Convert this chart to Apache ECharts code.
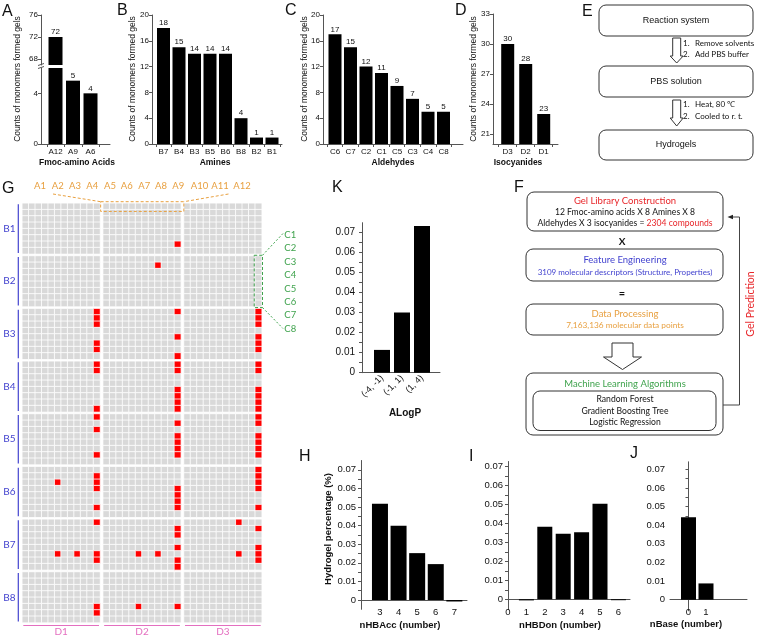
<!DOCTYPE html>
<html>
<head>
<meta charset="utf-8">
<script src="https://cdn.jsdelivr.net/npm/echarts@6/dist/echarts.min.js"></script>
</head>
<body style="margin: 0; background: #fff">
<div id="main" style="width: 757px; height: 637px"></div>
<script>
  // ---------- data ----------
  // A-D: counts of monomers that formed gels
  const aminoNames = ['A12', 'A9', 'A6'];
  const aminoCounts = [72, 5, 4];
  const amineNames = ['B7', 'B4', 'B3', 'B5', 'B6', 'B8', 'B2', 'B1'];
  const amineCounts = [18, 15, 14, 14, 14, 4, 1, 1];
  const aldehydeNames = ['C6', 'C7', 'C2', 'C1', 'C5', 'C3', 'C4', 'C8'];
  const aldehydeCounts = [17, 15, 12, 11, 9, 7, 5, 5];
  const isocyanideNames = ['D3', 'D2', 'D1'];
  const isocyanideCounts = [30, 28, 23];

  // K, H, I, J: hydrogel percentage by descriptor
  const alogpBins = ['(-4, -1)', '(-1, 1)', '(1, 4)'];
  const alogpPct = [0.0114, 0.0301, 0.0733];
  const hbaccNumbers = [3, 4, 5, 6, 7];
  const hbaccPct = [0.0518, 0.0399, 0.0252, 0.0193, -0.0008];
  const hbdonNumbers = [1, 2, 3, 4, 5, 6];
  const hbdonPct = [-0.0006, 0.0382, 0.0345, 0.0352, 0.0502, -0.0005];
  const nbaseNumbers = [0, 1];
  const nbasePct = [0.0442, 0.0087];
  const pctTicks = [0, 0.01, 0.02, 0.03, 0.04, 0.05, 0.06, 0.07];

  // G: library map, 12 A x 8 B x 8 C x 3 D
  const aLabels = ['A1', 'A2', 'A3', 'A4', 'A5', 'A6', 'A7', 'A8', 'A9', 'A10', 'A11', 'A12'];
  const bLabels = ['B1', 'B2', 'B3', 'B4', 'B5', 'B6', 'B7', 'B8'];
  const cLabels = ['C1', 'C2', 'C3', 'C4', 'C5', 'C6', 'C7', 'C8'];
  const dLabels = ['D1', 'D2', 'D3'];
  // gel-forming combinations: [amine, isocyanide, amino acid, aldehydes]
  const gelCells = [
    ['B1', 'D2', 'A12', ['C7']],
    ['B2', 'D2', 'A9', ['C2']],
    ['B3', 'D1', 'A12', ['C1', 'C2', 'C3', 'C6', 'C7']],
    ['B3', 'D2', 'A12', ['C1', 'C5', 'C8']],
    ['B3', 'D3', 'A12', ['C1', 'C2', 'C3', 'C5', 'C6', 'C7']],
    ['B4', 'D1', 'A12', ['C1', 'C2', 'C8']],
    ['B4', 'D2', 'A12', ['C1', 'C2', 'C5', 'C6', 'C7', 'C8']],
    ['B4', 'D3', 'A12', ['C1', 'C2', 'C5', 'C6', 'C7', 'C8']],
    ['B5', 'D1', 'A12', ['C1', 'C3', 'C7']],
    ['B5', 'D2', 'A12', ['C2', 'C4', 'C5', 'C6', 'C7']],
    ['B5', 'D3', 'A12', ['C1', 'C2', 'C4', 'C5', 'C6', 'C7']],
    ['B6', 'D1', 'A6', ['C3']],
    ['B6', 'D1', 'A12', ['C2', 'C3', 'C4', 'C7']],
    ['B6', 'D2', 'A12', ['C4', 'C5', 'C6', 'C7']],
    ['B6', 'D3', 'A12', ['C1', 'C2', 'C3', 'C4', 'C7']],
    ['B7', 'D1', 'A6', ['C6']],
    ['B7', 'D1', 'A9', ['C6']],
    ['B7', 'D1', 'A12', ['C1', 'C6', 'C7']],
    ['B7', 'D2', 'A6', ['C6']],
    ['B7', 'D2', 'A9', ['C6']],
    ['B7', 'D2', 'A12', ['C2', 'C3', 'C5', 'C7', 'C8']],
    ['B7', 'D3', 'A9', ['C1', 'C6']],
    ['B7', 'D3', 'A12', ['C2', 'C5', 'C6', 'C7']],
    ['B8', 'D1', 'A12', ['C6', 'C7']],
    ['B8', 'D2', 'A6', ['C6']],
    ['B8', 'D2', 'A12', ['C6']]
  ];

  // ---------- styles ----------
  const SANS = '"Liberation Sans", Arial, sans-serif';
  const CAL = 'Lato, "Open Sans", sans-serif';
  const INK = '#111';
  const AXIS = '#555';
  const ORANGE = '#E8A040';
  const GREEN = '#3FA34D';
  const BLUE = '#4343CF';
  const PINK = '#E46FC0';
  const RED = '#E8262A';

  const grid = [], xAxis = [], yAxis = [], series = [], graphic = [];

  function seq(names) { return names.map((n, i) => i + 1); }
  function bounds(n) { const r = []; for (let i = 0; i <= n; i++) r.push(i + 0.5); return r; }
  function pctFmt(v) { return v === 0 ? '0' : v.toFixed(2); }

  function addBarPanel(p) {
    const g = grid.length;
    grid.push({ left: p.left, top: p.top, width: p.width, height: p.height, outerBoundsMode: 'none' });
    xAxis.push({
      gridIndex: g, type: 'value', min: p.xMin, max: p.xMax,
      splitLine: { show: false },
      axisLine: { show: p.xLine !== false, onZero: true, lineStyle: { color: AXIS, width: 1 } },
      axisTick: p.xTicks ? { show: true, customValues: p.xTicks, length: 3, lineStyle: { color: AXIS } } : { show: false },
      axisLabel: p.xLabels ? Object.assign({
        show: true, customValues: p.xLabels, formatter: p.xFmt,
        color: INK, fontSize: p.xFont || 8, margin: p.xMargin === undefined ? 4 : p.xMargin, fontFamily: SANS
      }, p.xLabelExtra || {}) : { show: false }
    });
    yAxis.push({
      gridIndex: g, type: 'value', min: p.yMin, max: p.yMax,
      splitLine: { show: false },
      axisLine: { show: true, lineStyle: { color: AXIS, width: 1 } },
      axisTick: { show: true, customValues: p.yTicks, length: p.yTickLen || 3, lineStyle: { color: AXIS } },
      axisLabel: {
        show: true, customValues: p.yLabels, formatter: p.yFmt || (v => String(v)),
        color: INK, fontSize: p.yFont || 8, margin: p.yMargin || 3, fontFamily: SANS
      }
    });
    series.push({
      type: 'bar', xAxisIndex: g, yAxisIndex: g, barWidth: p.barWidth,
      data: p.data, itemStyle: { color: '#000' }, silent: true,
      label: p.valueLabel ? {
        show: true, position: 'top', distance: 1, fontSize: 8, color: INK,
        fontFamily: SANS, formatter: p.valueLabel
      } : { show: false }
    });
  }

  function text(x, y, str, o) {
    o = o || {};
    graphic.push({
      type: 'text', x: x, y: y, rotation: o.rotation || 0, z: 100, silent: true,
      style: {
        text: str, fill: o.color || INK, fontSize: o.size || 9, fontFamily: o.family || SANS,
        fontWeight: o.weight || 'normal', align: o.align || 'center', verticalAlign: 'middle',
        rich: o.rich
      }
    });
  }
  function line(x1, y1, x2, y2, color, dash, w) {
    graphic.push({
      type: 'line', z: 100, silent: true, shape: { x1: x1, y1: y1, x2: x2, y2: y2 },
      style: { stroke: color, lineWidth: w || 1, lineDash: dash || null }
    });
  }
  function box(x, y, w, h, r) {
    graphic.push({
      type: 'rect', z: 90, silent: true, shape: { x: x, y: y, width: w, height: h, r: r || 7 },
      style: { fill: '#fff', stroke: '#333', lineWidth: 1 }
    });
  }
  function downArrow(cx, top, shaftEnd, tip, half, headHalf) {
    graphic.push({
      type: 'polygon', z: 90, silent: true,
      shape: { points: [[cx - half, top], [cx + half, top], [cx + half, shaftEnd], [cx + headHalf, shaftEnd],
        [cx, tip], [cx - headHalf, shaftEnd], [cx - half, shaftEnd]] },
      style: { fill: '#fff', stroke: '#333', lineWidth: 1 }
    });
  }

  // ---------- A (broken axis: two grids) ----------
  const aBreakTop = 66.9;
  addBarPanel({
    left: 41, top: 15, width: 69, height: 50, xMin: 0.171, xMax: 4.114,
    yMin: aBreakTop, yMax: 76, yLabels: [68, 72, 76], yTicks: [68, 72, 76], xLine: false,
    barWidth: 14, data: aminoCounts.map((v, i) => [i + 1, v > aBreakTop ? v : null]),
    valueLabel: p => String(p.value[1])
  });
  addBarPanel({
    left: 41, top: 68, width: 69, height: 76, xMin: 0.171, xMax: 4.114,
    yMin: 0, yMax: 6, yLabels: [0, 4], yTicks: [0, 4],
    xTicks: bounds(aminoNames.length), xLabels: seq(aminoNames), xFmt: v => aminoNames[Math.round(v) - 1],
    barWidth: 14, data: aminoCounts.map((v, i) => [i + 1, v]),
    valueLabel: p => (p.value[1] <= 6 ? String(p.value[1]) : '')
  });
  // break marks on the A axis
  line(38, 65.5, 44, 63.5, AXIS);
  line(38, 68.5, 44, 66.5, AXIS);

  // ---------- B ----------
  addBarPanel({
    left: 152, top: 15, width: 130, height: 129, xMin: 0.258, xMax: 8.645,
    yMin: 0, yMax: 20, yLabels: [0, 4, 8, 12, 16, 20], yTicks: [0, 4, 8, 12, 16, 20],
    xTicks: bounds(amineNames.length), xLabels: seq(amineNames), xFmt: v => amineNames[Math.round(v) - 1],
    barWidth: 13, data: amineCounts.map((v, i) => [i + 1, v]), valueLabel: p => String(p.value[1])
  });
  // ---------- C ----------
  addBarPanel({
    left: 323, top: 15, width: 140, height: 129, xMin: 0.226, xMax: 9.258,
    yMin: 0, yMax: 20, yLabels: [0, 4, 8, 12, 16, 20], yTicks: [0, 4, 8, 12, 16, 20],
    xTicks: bounds(aldehydeNames.length), xLabels: seq(aldehydeNames), xFmt: v => aldehydeNames[Math.round(v) - 1],
    barWidth: 13, data: aldehydeCounts.map((v, i) => [i + 1, v]), valueLabel: p => String(p.value[1])
  });
  // ---------- D ----------
  addBarPanel({
    left: 493, top: 14, width: 65, height: 130, xMin: 0.183, xMax: 3.794,
    yMin: 20, yMax: 33, yLabels: [21, 24, 27, 30, 33], yTicks: [21, 24, 27, 30, 33],
    xTicks: bounds(isocyanideNames.length), xLabels: seq(isocyanideNames), xFmt: v => isocyanideNames[Math.round(v) - 1],
    barWidth: 13, data: isocyanideCounts.map((v, i) => [i + 1, v]), valueLabel: p => String(p.value[1])
  });

  const yTitle = 'Counts of monomers formed gels';
  text(18, 79, yTitle, { rotation: Math.PI / 2, size: 8.5 });
  text(133, 79, yTitle, { rotation: Math.PI / 2, size: 8.5 });
  text(305, 79, yTitle, { rotation: Math.PI / 2, size: 8.5 });
  text(474, 79, yTitle, { rotation: Math.PI / 2, size: 8.5 });
  text(77, 163, 'Fmoc-amino Acids', { weight: 'bold', size: 8.5 });
  text(215, 163, 'Amines', { weight: 'bold', size: 8.5 });
  text(393, 163, 'Aldehydes', { weight: 'bold', size: 8.5 });
  text(518, 163, 'Isocyanides', { weight: 'bold', size: 8.5 });

  // ---------- K ----------
  const minorPct = pctTicks.flatMap(v => [v, v + 0.005]);
  addBarPanel({
    left: 362, top: 222.7, width: 78, height: 150, xMin: 0, xMax: 3.9,
    yMin: 0, yMax: 0.075, yLabels: pctTicks, yTicks: minorPct, yFmt: pctFmt, yFont: 10, yMargin: 7,
    xLabels: seq(alogpBins), xFmt: v => alogpBins[Math.round(v) - 1], xFont: 9, xMargin: 4,
    xLabelExtra: { rotate: 45 },
    barWidth: 16, data: alogpPct.map((v, i) => [i + 1, v])
  });
  text(405, 413, 'ALogP', { weight: 'bold', size: 10 });

  // ---------- H ----------
  // x labels sit just under the zero line, above the grid bottom
  addBarPanel({
    left: 361, top: 460.5, width: 106, height: 148.8, xMin: 1.98, xMax: 7.68,
    yMin: -0.005, yMax: 0.075, yLabels: pctTicks, yTicks: minorPct, yFmt: pctFmt, yFont: 9.5, yMargin: 5,
    xLabels: hbaccNumbers, xFmt: v => String(v), xFont: 9.5, xMargin: -2.3,
    barWidth: 16, data: hbaccPct.map((v, i) => [hbaccNumbers[i], v])
  });
  text(328, 529, 'Hydrogel percentage (%)', { rotation: Math.PI / 2, weight: 'bold', size: 9.5 });
  text(400, 625, 'nHBAcc (number)', { weight: 'bold', size: 9.5 });

  // ---------- I ----------
  addBarPanel({
    left: 508, top: 461.5, width: 122, height: 148.2, xMin: 0, xMax: 6.63,
    yMin: -0.0055, yMax: 0.0725, yLabels: pctTicks, yTicks: minorPct, yFmt: pctFmt, yFont: 9.5, yMargin: 5,
    xLabels: [0, 1, 2, 3, 4, 5, 6], xFmt: v => String(v), xFont: 9.5, xMargin: -2.7,
    barWidth: 15, data: hbdonPct.map((v, i) => [hbdonNumbers[i], v])
  });
  text(560, 625, 'nHBDon (number)', { weight: 'bold', size: 9.5 });

  // ---------- J ----------
  addBarPanel({
    left: 670, top: 461.8, width: 77, height: 149, xMin: -1.057, xMax: 3.343,
    yMin: -0.006, yMax: 0.074, yLabels: pctTicks, yTicks: minorPct, yFmt: pctFmt, yFont: 9.5, yMargin: 5,
    xLabels: nbaseNumbers, xFmt: v => String(v), xFont: 9.5, xMargin: -3.8,
    barWidth: 15, data: nbasePct.map((v, i) => [nbaseNumbers[i], v])
  });
  text(686, 624, 'nBase (number)', { weight: 'bold', size: 9.5 });

  // ---------- G heatmap: one grid per (B, D) block ----------
  const HM = { left: 22.3, top: 203.3, blockW: 77.7, blockH: 50.6, stepX: 80.85, stepY: 52.67 };
  const hits = new Set();
  gelCells.forEach(([b, d, a, cs]) => cs.forEach(c => hits.add([b, d, a, c].join('|'))));
  const heatIdx = [];
  bLabels.forEach((b, bi) => {
    dLabels.forEach((d, di) => {
      const g = grid.length;
      grid.push({ left: HM.left + di * HM.stepX, top: HM.top + bi * HM.stepY,
        width: HM.blockW, height: HM.blockH, outerBoundsMode: 'none' });
      xAxis.push({ gridIndex: g, type: 'category', data: aLabels, show: false });
      yAxis.push({ gridIndex: g, type: 'category', data: cLabels, inverse: true, show: false });
      const data = [];
      aLabels.forEach((a, ai) => cLabels.forEach((c, ci) => {
        data.push([ai, ci, hits.has([b, d, a, c].join('|')) ? 1 : 0]);
      }));
      heatIdx.push(series.length);
      series.push({
        type: 'heatmap', xAxisIndex: g, yAxisIndex: g, data: data, silent: true,
        itemStyle: { borderColor: '#fff', borderWidth: 0.8 }, emphasis: { disabled: true }
      });
    });
  });

  // G annotations
  const cellW = HM.blockW / aLabels.length, cellH = HM.blockH / cLabels.length;
  const aLabelX = [40, 57.7, 75, 92.3, 110, 126.7, 144.3, 161, 178.3, 199.5, 220, 242];
  aLabels.forEach((a, i) => text(aLabelX[i], 185.7, a, { color: ORANGE, size: 9.5, family: CAL }));
  cLabels.forEach((c, i) => text(284.3, 235 + i * 13.4, c, { color: GREEN, size: 9.5, family: CAL, align: 'left' }));
  bLabels.forEach((b, i) => {
    const top = HM.top + i * HM.stepY;
    text(9.5, top + HM.blockH / 2, b, { color: BLUE, size: 10, family: CAL });
    line(18.3, top + 1, 18.3, top + HM.blockH - 1, BLUE, null, 1.2);
  });
  dLabels.forEach((d, i) => {
    const left = HM.left + i * HM.stepX;
    text(left + HM.blockW / 2, 632, d, { color: PINK, size: 10, family: CAL });
    line(left + 1, 625.5, left + HM.blockW - 1, 625.5, PINK, null, 1.2);
  });
  // orange dashed: row C1 of B1 across D2
  const oL = HM.left + HM.stepX - 2.5, oR = HM.left + HM.stepX + HM.blockW + 3, oT = HM.top - 1.6, oB = HM.top + cellH + 1.8;
  graphic.push({ type: 'rect', z: 100, silent: true, shape: { x: oL, y: oT, width: oR - oL, height: oB - oT },
    style: { fill: null, stroke: ORANGE, lineWidth: 1, lineDash: [3, 2] } });
  line(53, 194, oL, oT, ORANGE, [3, 2]);
  line(228.5, 194, oR, oT, ORANGE, [3, 2]);
  // green dashed: column A12 of B2 in D3
  const gL = HM.left + 2 * HM.stepX + 11 * cellW - 1, gR = HM.left + 2 * HM.stepX + HM.blockW + 0.8;
  const gT = HM.top + HM.stepY - 0.7, gB = HM.top + HM.stepY + HM.blockH + 1;
  graphic.push({ type: 'rect', z: 100, silent: true, shape: { x: gL, y: gT, width: gR - gL, height: gB - gT },
    style: { fill: null, stroke: GREEN, lineWidth: 1, lineDash: [3, 2] } });
  line(gR, gT, 283, 233.5, GREEN, [2, 2]);
  line(gR, gB, 283, 328.5, GREEN, [2, 2]);

  // ---------- E flowchart ----------
  box(599, 5, 154, 31);
  box(599, 66, 154, 31);
  box(599, 130, 154, 30);
  text(676, 20.7, 'Reaction system', { size: 9 });
  text(676, 81.7, 'PBS solution', { size: 9 });
  text(676, 145, 'Hydrogels', { size: 9 });
  downArrow(676.7, 38, 56, 63, 4, 6.5);
  downArrow(676.7, 100, 118, 126, 4, 6.5);
  text(683, 43.5, '1.', { size: 8, family: CAL, align: 'left' });
  text(695, 43.5, 'Remove solvents', { size: 8, family: CAL, align: 'left' });
  text(683, 54.3, '2.', { size: 8, family: CAL, align: 'left' });
  text(695, 54.3, 'Add PBS buffer', { size: 8, family: CAL, align: 'left' });
  text(683, 104.5, '1.', { size: 8, family: CAL, align: 'left' });
  text(695, 104.5, 'Heat, 80 \u2103', { size: 8, family: CAL, align: 'left' });
  text(683, 116, '2.', { size: 8, family: CAL, align: 'left' });
  text(695, 116, 'Cooled to r. t.', { size: 8, family: CAL, align: 'left' });

  // ---------- F flowchart ----------
  box(527, 192, 196, 39);
  text(625, 201, 'Gel Library Construction', { color: RED, size: 9.5, family: CAL });
  text(625, 212.3, '12 Fmoc-amino acids X 8 Amines X 8', { size: 8.6, family: CAL });
  text(625, 223.3, '{k|Aldehydes X 3 isocyanides = }{r|2304 compounds}', {
    size: 8.6, family: CAL,
    rich: { k: { fill: INK, fontSize: 8.6, fontFamily: CAL }, r: { fill: RED, fontSize: 8.6, fontFamily: CAL } }
  });
  text(622, 241.5, 'X', { weight: 'bold', size: 10, family: CAL });
  box(526, 249, 197, 32);
  text(625, 260, 'Feature Engineering', { color: BLUE, size: 9.5, family: CAL });
  text(625, 272, '3109 molecular descriptors (Structure, Properties)', { color: BLUE, size: 8, family: CAL });
  text(622, 293, '=', { weight: 'bold', size: 11, family: CAL });
  box(526, 304, 197, 31);
  text(625, 313.5, 'Data Processing', { color: ORANGE, size: 9.5, family: CAL });
  text(625, 325.3, '7,163,136 molecular data points', { color: ORANGE, size: 8.3, family: CAL });
  downArrow(622.5, 343, 357, 369.5, 10.5, 19);
  box(526, 373, 197, 62);
  text(625, 384.3, 'Machine Learning Algorithms', { color: GREEN, size: 9.5, family: CAL });
  box(533, 391, 183, 39.5);
  text(625, 399.5, 'Random Forest', { size: 8.6, family: CAL });
  text(625, 411, 'Gradient Boosting Tree', { size: 8.6, family: CAL });
  text(625, 422.5, 'Logistic Regression', { size: 8.6, family: CAL });
  graphic.push({ type: 'polyline', z: 100, silent: true,
    shape: { points: [[723, 405], [739.5, 405], [739.5, 217], [731, 217]] },
    style: { stroke: '#444', lineWidth: 1, fill: null } });
  graphic.push({ type: 'polygon', z: 100, silent: true,
    shape: { points: [[727.5, 217], [733, 214.8], [733, 219.2]] }, style: { fill: '#222' } });
  text(750.5, 304, 'Gel Prediction', { rotation: Math.PI / 2, color: RED, size: 10.5, family: CAL });

  // ---------- panel letters ----------
  const letters = [['A', 2, 11.5], ['B', 117, 11], ['C', 285, 11], ['D', 455, 11], ['E', 582, 12],
    ['G', 2, 189], ['K', 332, 188], ['F', 514, 188], ['H', 299, 457], ['I', 469, 457], ['J', 630, 454]];
  letters.forEach(([t, x, y]) => text(x, y, t, { size: 16, align: 'left' }));

  const chart = echarts.init(document.getElementById('main'));
  chart.setOption({
    animation: false,
    textStyle: { fontFamily: SANS },
    grid: grid, xAxis: xAxis, yAxis: yAxis, series: series,
    visualMap: {
      type: 'piecewise', show: false, dimension: 2, seriesIndex: heatIdx,
      pieces: [{ value: 0, color: '#d9d9d9' }, { value: 1, color: '#ff0000' }]
    },
    graphic: graphic
  });
</script>
</body>
</html>
